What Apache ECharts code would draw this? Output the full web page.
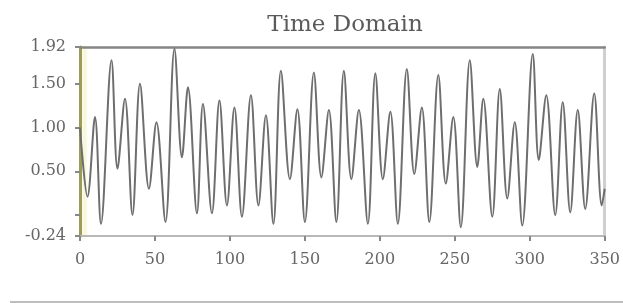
<!DOCTYPE html>
<html>
<head>
<meta charset="utf-8">
<script src="https://cdn.jsdelivr.net/npm/echarts@6/dist/echarts.min.js"></script>
<style>html,body{margin:0;padding:0;background:#fff;}#c{width:623px;height:303px;}</style>
</head>
<body>
<div id="c"></div>
<script>
var titleText = "Time Domain";
var sampleX = [0, 5, 10, 14, 21, 25, 30, 35, 40, 46, 51, 57, 63, 68, 72, 78, 82, 88, 93, 98, 103, 108, 114, 119, 124, 129, 134, 140, 145, 150, 156, 161, 166, 171, 176, 181, 186, 192, 197, 202, 207, 212, 218, 223, 228, 233, 239, 244, 249, 254, 260, 265, 269, 275, 280, 285, 290, 295, 302, 306, 311, 317, 322, 327, 332, 337, 343, 348, 350];
var sampleY = [1.00, 0.21, 1.12, -0.10, 1.77, 0.53, 1.33, 0.00, 1.50, 0.30, 1.06, -0.08, 1.90, 0.66, 1.46, 0.02, 1.27, 0.02, 1.31, 0.11, 1.23, -0.02, 1.37, 0.11, 1.14, -0.10, 1.65, 0.41, 1.21, -0.08, 1.63, 0.43, 1.20, -0.08, 1.65, 0.41, 1.20, -0.10, 1.62, 0.41, 1.18, -0.10, 1.67, 0.47, 1.23, -0.08, 1.60, 0.36, 1.12, -0.14, 1.77, 0.55, 1.33, -0.02, 1.44, 0.19, 1.06, -0.12, 1.84, 0.63, 1.37, 0.00, 1.29, 0.03, 1.20, 0.07, 1.39, 0.11, 0.30];
var yTickValues = [-0.24, 0, 0.5, 1.0, 1.5, 1.92];
var yLabelValues = [-0.24, 0.5, 1.0, 1.5, 1.92];
var xMin = 0, xMax = 350, xStep = 50;
var yMin = -0.24, yMax = 1.92;

var data = sampleX.map(function (x, i) { return [x, sampleY[i]]; });
var chart = echarts.init(document.getElementById('c'), null, {renderer: 'canvas'});
var font = 'DejaVu Serif';
chart.setOption({
  animation: false,
  backgroundColor: '#ffffff',
  title: {
    text: titleText, left: 340, top: 9, textAlign: 'center',
    textStyle: {fontFamily: font, fontSize: 23, fontWeight: 'normal', color: '#5a5a5a'}
  },
  grid: {left: 80, right: 18, top: 47, bottom: 67},
  xAxis: [{
    type: 'value', min: xMin, max: xMax, interval: xStep,
    axisLine: {show: true, onZero: false, lineStyle: {color: '#b8b8b8', width: 2}},
    axisTick: {show: true, inside: false, length: 5, lineStyle: {color: '#888', width: 2}},
    axisLabel: {margin: 16, fontFamily: font, fontSize: 16, color: '#666'},
    splitLine: {show: false}
  }, {
    type: 'value', position: 'top', min: xMin, max: xMax,
    axisLine: {show: true, onZero: false, lineStyle: {color: '#858585', width: 2.5}},
    axisTick: {show: false}, axisLabel: {show: false}, splitLine: {show: false}
  }],
  yAxis: [{
    type: 'value', min: yMin, max: yMax,
    axisLine: {show: true, onZero: false, lineStyle: {color: '#9c9c5a', width: 3, shadowColor: '#f4f4c8', shadowBlur: 3, shadowOffsetX: 4}},
    axisTick: {show: true, length: 5, customValues: yTickValues, lineStyle: {color: '#888', width: 2}},
    axisLabel: {margin: 14, customValues: yLabelValues, fontFamily: font, fontSize: 16, color: '#666',
      formatter: function (v) { return v.toFixed(2); }},
    splitLine: {show: false}
  }, {
    type: 'value', position: 'right', min: yMin, max: yMax,
    axisLine: {show: true, onZero: false, lineStyle: {color: '#cfcfcf', width: 3}},
    axisTick: {show: false}, axisLabel: {show: false}, splitLine: {show: false}
  }],
  graphic: [{
    type: 'line', shape: {x1: 10, y1: 302, x2: 623, y2: 302},
    style: {stroke: '#a8a8a8', lineWidth: 1.5}
  }],
  series: [{
    type: 'line', data: data, xAxisIndex: 0, yAxisIndex: 0,
    showSymbol: false, smooth: 0.35, clip: true,
    lineStyle: {color: '#6e6e6e', width: 2}
  }]
});
</script>
</body>
</html>
